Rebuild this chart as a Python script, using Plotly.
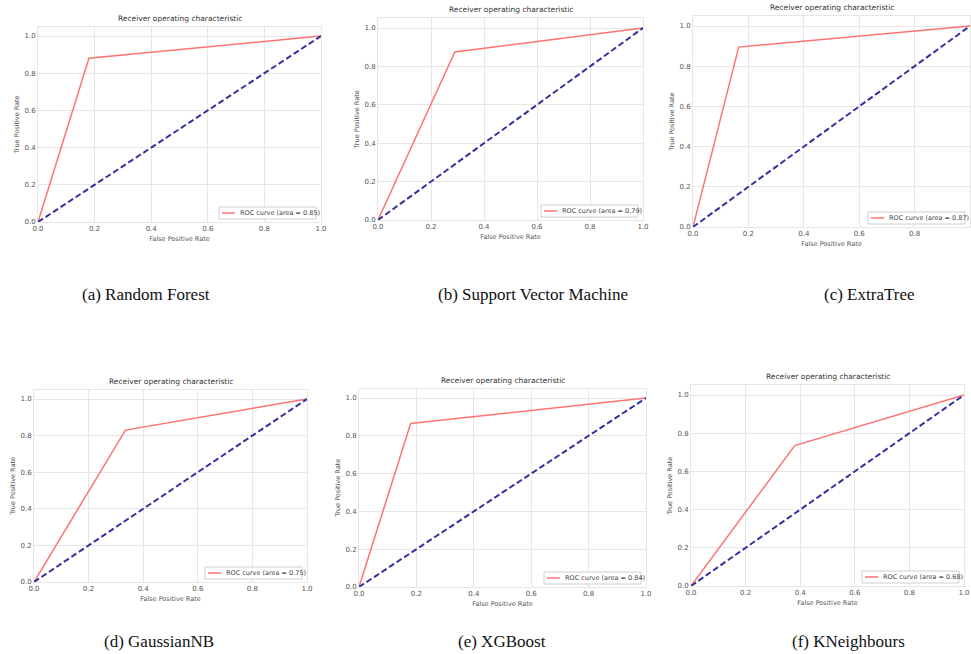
import plotly.graph_objects as go

W, H = 971, 654

# Data
models = ["Random Forest", "Support Vector Machine", "ExtraTree", "GaussianNB", "XGBoost", "KNeighbours"]
letters = ["a", "b", "c", "d", "e", "f"]
fpr_points = [0.18, 0.29, 0.165, 0.335, 0.18, 0.38]
tpr_points = [0.88, 0.875, 0.895, 0.83, 0.865, 0.735]
auc_values = [0.85, 0.79, 0.87, 0.75, 0.84, 0.68]
chance_x = [0.0, 1.0]
chance_y = [0.0, 1.0]
x_ticks = [0.0, 0.2, 0.4, 0.6, 0.8, 1.0]
y_ticks = [0.0, 0.2, 0.4, 0.6, 0.8, 1.0]

# Layout geometry in pixels: (left, right, y_of_0, y_of_1)
boxes = [
    (38, 321, 222, 36),
    (378, 643, 220, 28),
    (693, 970, 227, 26),
    (34, 307, 582, 399),
    (359, 646, 587, 398),
    (691, 964, 586, 395),
]
caption_pos = [(146, 294), (533, 294), (869, 294), (159, 641), (502, 641), (848, 641)]

fig = go.Figure()
annotations = []
shapes = []
layout = {}
grid_col = "#e6e6e6"
tick_col = "#555555"
red = "#ff7373"
font_family = "DejaVu Sans"

for i in range(6):
    n = "" if i == 0 else str(i + 1)
    xa, ya = "x" + n, "y" + n
    left, right, y0, y1 = boxes[i]
    unit = y0 - y1
    top = y1 - 0.05 * unit
    dx = [left / W, right / W]
    dy = [1 - y0 / H, 1 - top / H]
    label = "ROC curve (area = %.2f)" % auc_values[i]

    fig.add_trace(go.Scatter(
        x=[0.0, fpr_points[i], 1.0], y=[0.0, tpr_points[i], 1.0],
        mode="lines", line=dict(color=red, width=1.5),
        name=label, xaxis=xa, yaxis=ya, showlegend=False, hoverinfo="skip"))
    fig.add_trace(go.Scatter(
        x=chance_x, y=chance_y, mode="lines",
        line=dict(color="#33339e", width=2, dash="6px,3px"),
        xaxis=xa, yaxis=ya, showlegend=False, hoverinfo="skip"))

    axis_common = dict(
        showgrid=True, gridcolor=grid_col, gridwidth=1,
        showline=True, linecolor=grid_col, linewidth=1, mirror=True,
        zeroline=False, ticks="", automargin=False,
        tickfont=dict(size=7, color=tick_col, family=font_family),
        tickformat=".1f", fixedrange=True,
    )
    layout["xaxis" + n] = dict(
        axis_common, domain=dx, range=[0, 1], tickvals=x_ticks, anchor=ya,
        title=dict(text="False Positive Rate", font=dict(size=6.5, color=tick_col, family=font_family), standoff=4),
    )
    layout["yaxis" + n] = dict(
        axis_common, domain=dy, range=[0, 1.05], tickvals=y_ticks, anchor=xa,
        title=dict(text="True Positive Rate", font=dict(size=6.5, color=tick_col, family=font_family), standoff=4),
    )

    # legend box (lower right)
    lx1 = right - 5
    lx0 = lx1 - 97
    ly1 = y0 - 3
    ly0 = ly1 - 12
    shapes.append(dict(type="rect", xref="paper", yref="paper",
                       x0=lx0 / W, x1=lx1 / W, y0=1 - ly1 / H, y1=1 - ly0 / H,
                       line=dict(color="#d0d0d0", width=1), fillcolor="white", layer="above"))
    ymid = 1 - (ly0 + ly1) / 2 / H
    shapes.append(dict(type="line", xref="paper", yref="paper",
                       x0=(lx0 + 3) / W, x1=(lx0 + 16) / W, y0=ymid, y1=ymid,
                       line=dict(color=red, width=1.5), layer="above"))
    annotations.append(dict(
        text=label, x=(lx0 + 19) / W, y=ymid, xref="paper", yref="paper",
        xanchor="left", yanchor="middle", showarrow=False,
        font=dict(size=6.5, color="#444444", family=font_family)))

    annotations.append(dict(
        text="Receiver operating characteristic", x=(left + right) / 2 / W, y=1 - top / H,
        xref="paper", yref="paper", xanchor="center", yanchor="bottom", yshift=2,
        showarrow=False, font=dict(size=7.5, color="#333333", family=font_family)))
    cx, cy = caption_pos[i]
    annotations.append(dict(
        text="(%s) %s" % (letters[i], models[i]), x=cx / W, y=1 - cy / H,
        xref="paper", yref="paper", xanchor="center", yanchor="middle",
        showarrow=False, font=dict(size=17, color="#111111", family="Liberation Serif")))

fig.update_layout(
    width=W, height=H, margin=dict(l=0, r=0, t=0, b=0, autoexpand=False),
    paper_bgcolor="white", plot_bgcolor="white", showlegend=False,
    annotations=annotations, shapes=shapes, **layout)

fig.write_html(
    "out.html",
    config={"displayModeBar": False},
    post_script="document.body.style.margin='0';document.body.style.overflow='hidden';",
)
